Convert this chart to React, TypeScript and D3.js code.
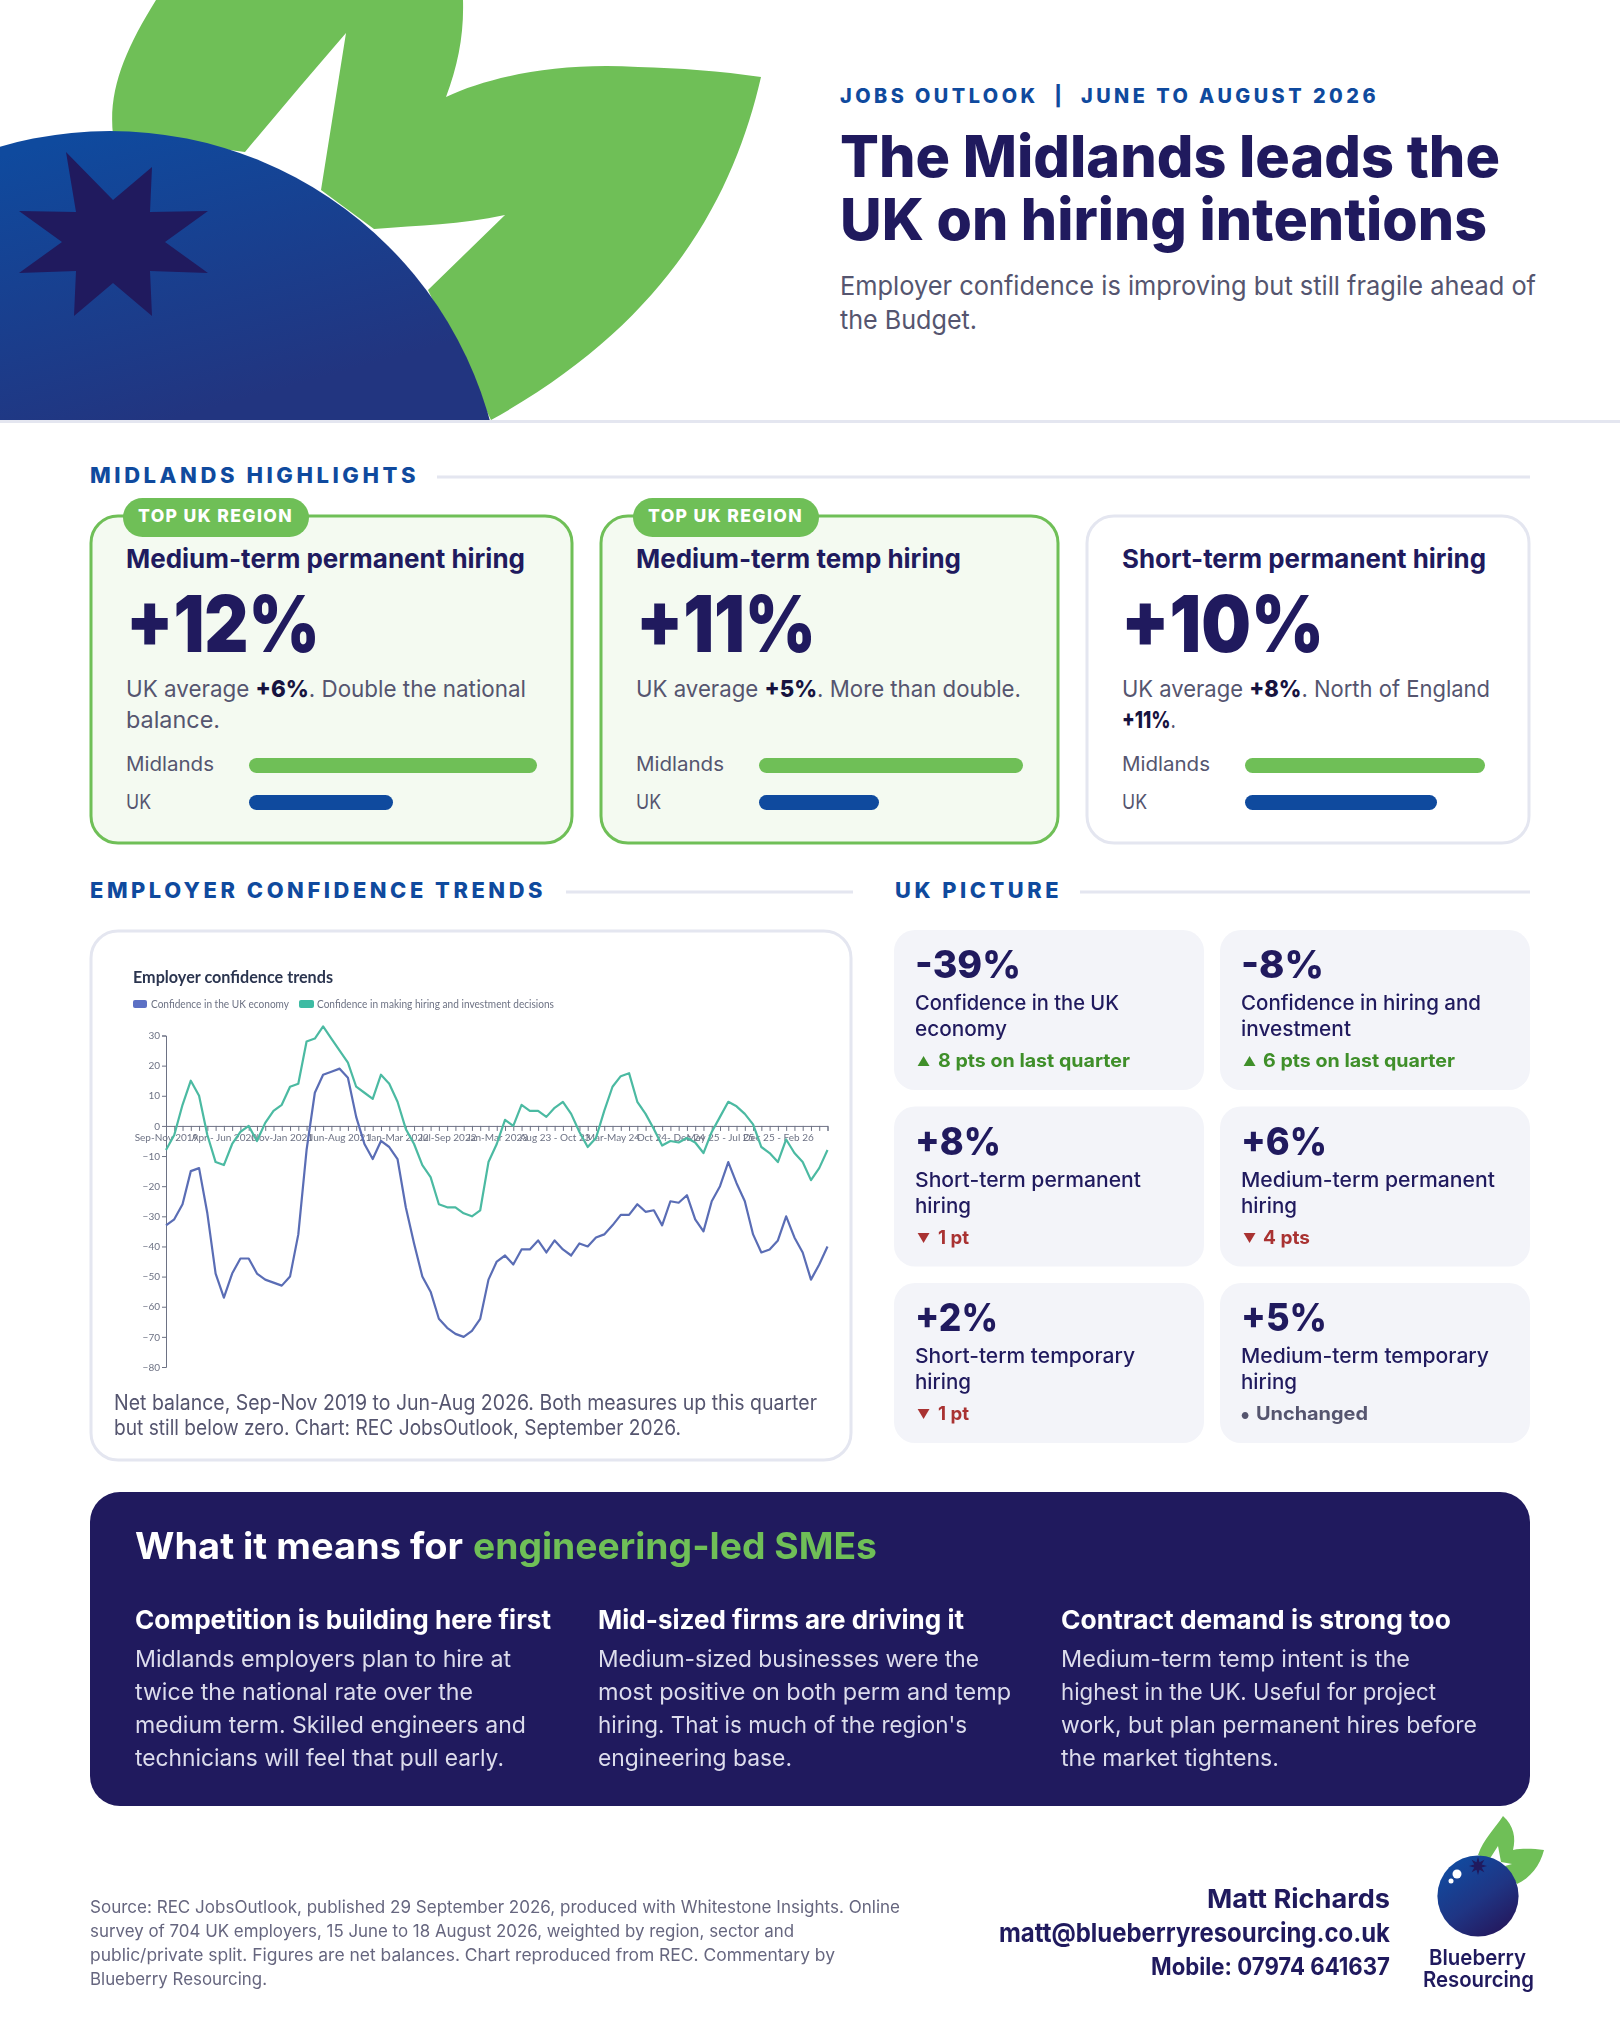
import * as d3 from "d3"
import { useEffect, useRef } from "react"

// chart series
const economy = [-33, -31, -26, -15, -14, -29, -49, -57, -49, -44, -44, -49, -51, -52, -53, -50, -36, -8, 11, 17, 18, 19, 16, 3, -6, -11, -5, -7, -11, -27, -39, -50, -55, -64, -67, -69, -70, -68, -64, -51, -45, -43, -46, -41, -41, -38, -42, -38, -41, -43, -39, -40, -37, -36, -33, -29.5, -29.5, -26, -28.5, -28, -33, -25, -25.5, -23, -31, -35, -25, -20, -12, -19, -25, -36, -42, -41, -38, -30, -37, -42, -51, -46, -40]
const hiring = [-8, -3, 7, 15, 10, -3, -12, -13, -6, -2, 0, -5, 1, 5, 7, 13, 14, 28, 29, 33, 29, 25, 21, 13, 11, 9, 17, 14, 8, -1, -6, -13, -17, -26, -27, -27, -29, -30, -28, -12, -6, 2, 0, 7, 5, 5, 3, 6, 8, 4, -2, -7, -4, 5, 13, 16.5, 17.5, 8, 4, -1, -6.5, -5, -5.5, -4, -5.5, -9, -2, 3, 8, 6.5, 4, 0.5, -7, -9, -12, -4.5, -9, -12, -18, -14, -8]
const xLabelIndex = [0, 7, 14, 21, 28, 34, 40, 47, 54, 61, 67, 74]
const xLabels = ["Sep-Nov 2019", "Apr - Jun 2020", "Nov-Jan 2021", "Jun-Aug 2021", "Jan-Mar 2022", "Jul-Sep 2022", "Jan-Mar 2023", "Aug 23 - Oct 23", "Mar-May 24", "Oct 24- Dec 24", "May 25 - Jul 25", "Dec 25 - Feb 26"]
const yTicks = [30, 20, 10, 0, -10, -20, -30, -40, -50, -60, -70, -80]

// highlight cards
const cardTitles = ["Medium-term permanent hiring", "Medium-term temp hiring", "Short-term permanent hiring"]
const midlandsValues = [12, 11, 10]
const ukValues = [6, 5, 8]
const cardNotes = [" Double the national", " More than double.", " North of England"]

// UK picture
const statValues = ["-39%", "-8%", "+8%", "+6%", "+2%", "+5%"]
const statLabels = [
  ["Confidence in the UK", "economy"],
  ["Confidence in hiring and", "investment"],
  ["Short-term permanent", "hiring"],
  ["Medium-term permanent", "hiring"],
  ["Short-term temporary", "hiring"],
  ["Medium-term temporary", "hiring"],
]
const statSymbols = ["▲", "▲", "▼", "▼", "▼", "●"]
const statDeltas = ["8 pts on last quarter", "6 pts on last quarter", "1 pt", "4 pts", "1 pt", "Unchanged"]

const meansHeads = ["Competition is building here first", "Mid-sized firms are driving it", "Contract demand is strong too"]
const meansBody = [
  ["Midlands employers plan to hire at", "twice the national rate over the", "medium term. Skilled engineers and", "technicians will feel that pull early."],
  ["Medium-sized businesses were the", "most positive on both perm and temp", "hiring. That is much of the region's", "engineering base."],
  ["Medium-term temp intent is the", "highest in the UK. Useful for project", "work, but plan permanent hires before", "the market tightens."],
]
const sourceLines = [
  "Source: REC JobsOutlook, published 29 September 2026, produced with Whitestone Insights. Online",
  "survey of 704 UK employers, 15 June to 18 August 2026, weighted by region, sector and",
  "public/private split. Figures are net balances. Chart reproduced from REC. Commentary by",
  "Blueberry Resourcing.",
]

// measured text widths, the substitute font is narrower than the original
const widths: Record<string, number> = {
  "JOBS OUTLOOK  |  JUNE TO AUGUST 2026": 539, "The Midlands leads the": 660, "UK on hiring intentions": 647,
  "Employer confidence is improving but still fragile ahead of": 696, "the Budget.": 137,
  "MIDLANDS HIGHLIGHTS": 329, "EMPLOYER CONFIDENCE TRENDS": 456, "UK PICTURE": 167, "TOP UK REGION": 155,
  "Medium-term permanent hiring": 399, "Medium-term temp hiring": 325, "Short-term permanent hiring": 364,
  "+12%": 194, "+11%": 180, "+10%": 203, "Midlands": 88, "UK": 25, "balance.": 94,
  "Net balance, Sep-Nov 2019 to Jun-Aug 2026. Both measures up this quarter": 703,
  "but still below zero. Chart: REC JobsOutlook, September 2026.": 567,
  "-39%": 106, "-8%": 83, "+8%": 86, "+6%": 86, "+2%": 83, "+5%": 86,
  "Confidence in the UK": 204, "economy": 92, "Confidence in hiring and": 240, "investment": 110,
  "Short-term permanent": 226, "hiring": 56, "Medium-term permanent": 254, "Short-term temporary": 220, "Medium-term temporary": 248,
  "8 pts on last quarter": 192, "6 pts on last quarter": 192, "1 pt": 31, "4 pts": 47, "Unchanged": 112,
  "What it means for": 328, "engineering-led SMEs": 404,
  "Competition is building here first": 416, "Mid-sized firms are driving it": 366, "Contract demand is strong too": 390,
  "Midlands employers plan to hire at": 376, "twice the national rate over the": 338, "medium term. Skilled engineers and": 391, "technicians will feel that pull early.": 369,
  "Medium-sized businesses were the": 381, "most positive on both perm and temp": 413, "hiring. That is much of the region's": 369, "engineering base.": 194,
  "Medium-term temp intent is the": 349, "highest in the UK. Useful for project": 375, "work, but plan permanent hires before": 416, "the market tightens.": 218,
  "Source: REC JobsOutlook, published 29 September 2026, produced with Whitestone Insights. Online": 810,
  "survey of 704 UK employers, 15 June to 18 August 2026, weighted by region, sector and": 704,
  "public/private split. Figures are net balances. Chart reproduced from REC. Commentary by": 745,
  "Blueberry Resourcing.": 177, "Matt Richards": 183, "matt@blueberryresourcing.co.uk": 391, "Mobile: 07974 641637": 239,
  "Blueberry": 97, "Resourcing": 111,
}
const cardBodyWidths = [400, 385, 368]

const NAVY = "#201a5e"
const BLUE = "#0f4a9e"
const GREEN = "#6fbf57"
const GREY = "#55556f"
const RULE = "#e4e6f0"
const FONT = "Inter, 'Noto Sans', sans-serif"

const T = ({ x, y, size, weight = 400, fill = NAVY, spacing, children }: any) => (
  <text
    x={x}
    y={y}
    fontSize={size}
    fontWeight={weight}
    fill={fill}
    letterSpacing={spacing}
    xmlSpace="preserve"
    textLength={widths[children]}
    lengthAdjust="spacingAndGlyphs"
  >
    {children}
  </text>
)

const Heading = ({ x, y, rule, x2, label }: any) => (
  <g>
    <T x={x} y={y} size={21} weight={800} fill={BLUE} spacing={3.4}>{label}</T>
    <line x1={rule} x2={x2} y1={y - 6} y2={y - 6} stroke={RULE} strokeWidth={3} />
  </g>
)

const cardBoxes = [
  { x: 91, w: 481, text: 126, bar: 249, big: 126, top: true },
  { x: 601, w: 457, text: 636, bar: 759, big: 636, top: true },
  { x: 1087, w: 442, text: 1122, bar: 1245, big: 1121, top: false },
]
const barScale = d3.scaleLinear().domain([0, 12]).range([0, 288])

const HighlightCard = ({ i }: { i: number }) => {
  const b = cardBoxes[i]
  return (
    <g>
      <rect x={b.x} y={516} width={b.w} height={327} rx={27} fill={b.top ? "#f4faf1" : "#fff"} stroke={b.top ? GREEN : RULE} strokeWidth={3} />
      {b.top && (
        <g>
          <rect x={b.x + 32} y={498} width={186} height={39} rx={19.5} fill={GREEN} />
          <T x={b.x + 47} y={522} size={18} weight={800} fill="#fff" spacing={1.4}>TOP UK REGION</T>
        </g>
      )}
      <T x={b.text} y={568} size={26} weight={700}>{cardTitles[i]}</T>
      <T x={b.big} y={652} size={78} weight={900}>{`+${midlandsValues[i]}%`}</T>
      <text x={b.text} y={697} fontSize={23.5} fill={GREY} xmlSpace="preserve" textLength={cardBodyWidths[i]} lengthAdjust="spacingAndGlyphs">
        UK average <tspan fontWeight={800} fill="#17133f">{`+${ukValues[i]}%`}</tspan>.{cardNotes[i]}
      </text>
      {i === 0 && <T x={b.text} y={728} size={23.5} fill={GREY}>balance.</T>}
      {i === 2 && <text x={b.text} y={728} fontSize={23.5} fontWeight={800} fill="#17133f" textLength={54} lengthAdjust="spacingAndGlyphs">+11%<tspan fontWeight={400} fill={GREY}>.</tspan></text>}
      <T x={b.text} y={771} size={20} fill={GREY}>Midlands</T>
      <T x={b.text} y={809} size={20} fill={GREY}>UK</T>
      <rect x={b.bar} y={758} width={barScale(midlandsValues[i])} height={15} rx={7.5} fill={GREEN} />
      <rect x={b.bar} y={795} width={barScale(ukValues[i])} height={15} rx={7.5} fill={BLUE} />
    </g>
  )
}

// the chart is a small raster in the original, so it gets a slight blur
const TrendChart = () => {
  const xRef = useRef<SVGGElement>(null)
  const yRef = useRef<SVGGElement>(null)
  const x = d3.scaleLinear().domain([0, economy.length - 1]).range([166, 827.5])
  const y = d3.scaleLinear().domain([-80, 30]).range([1367, 1035.5])
  const line = d3.line<number>().x((_, i) => x(i)).y((d) => y(d))

  useEffect(() => {
    const xAxis = d3.axisBottom(x)
      .tickValues(d3.range(economy.length))
      .tickSize(5)
      .tickPadding(3)
      .tickFormat((d) => {
        const at = xLabelIndex.indexOf(d as number)
        return at >= 0 ? xLabels[at] : ""
      })
    const yAxis = d3.axisLeft(y).tickValues(yTicks).tickSize(4).tickPadding(2)
    const xg = d3.select(xRef.current!).call(xAxis as any)
    const yg = d3.select(yRef.current!).call(yAxis as any)
    for (const g of [xg, yg]) {
      g.selectAll("text").attr("font-family", "Lato, sans-serif").attr("font-size", 10).attr("fill", "#6d7284")
      g.selectAll("line").attr("stroke", "#6d7284")
      g.selectAll("path").attr("stroke", "#6d7284")
    }
  }, [])

  return (
    <g filter="url(#soft)">
      <text x={133} y={983} fontFamily="Lato, sans-serif" fontWeight={700} fontSize={17} fill="#2c3550" textLength={200} lengthAdjust="spacingAndGlyphs">Employer confidence trends</text>
      <rect x={133} y={1000} width={14} height={8} rx={2} fill="#5b6fc4" />
      <text x={151} y={1008} fontFamily="Lato, sans-serif" fontSize={11} fill="#6d7284" textLength={138} lengthAdjust="spacingAndGlyphs">Confidence in the UK economy</text>
      <rect x={299} y={1000} width={15} height={8} rx={2} fill="#3dbba3" />
      <text x={317} y={1008} fontFamily="Lato, sans-serif" fontSize={11} fill="#6d7284" textLength={237} lengthAdjust="spacingAndGlyphs">Confidence in making hiring and investment decisions</text>
      <g ref={yRef} transform="translate(166,0)" />
      <g ref={xRef} transform={`translate(0,${y(0)})`} />
      <path d={line(hiring)!} fill="none" stroke="#4cbaa2" strokeWidth={2.2} strokeLinejoin="round" />
      <path d={line(economy)!} fill="none" stroke="#5a6db5" strokeWidth={2.2} strokeLinejoin="round" />
    </g>
  )
}

const StatCard = ({ i }: { i: number }) => {
  const cx = i % 2 === 0 ? 894 : 1220
  const top = 930 + Math.floor(i / 2) * 176.5
  const sym = statSymbols[i]
  const colour = sym === "▲" ? "#3f8f2a" : sym === "▼" ? "#a93232" : GREY
  const textX = sym === "●" ? cx + 36 : cx + 44 - (i % 2)
  return (
    <g>
      <rect x={cx} y={top} width={310} height={160} rx={21} fill="#f3f4f9" />
      <T x={cx + 21} y={top + 48} size={38} weight={800}>{statValues[i]}</T>
      <T x={cx + 21} y={top + 80} size={20.5} weight={500}>{statLabels[i][0]}</T>
      <T x={cx + 21} y={top + 106} size={20.5} weight={500}>{statLabels[i][1]}</T>
      <text x={sym === "●" ? cx + 21 : cx + 23} y={top + 136} fontSize={sym === "●" ? 9 : 13} fill={colour}>{sym}</text>
      <T x={textX} y={top + 137} size={18.5} weight={700} fill={colour}>{statDeltas[i]}</T>
    </g>
  )
}

const starPoints = (cx: number, cy: number, outer: number, inner: number, n: number) =>
  d3.range(n * 2).map((k) => {
    const r = k % 2 === 0 ? outer : inner
    const a = (k * Math.PI) / n - Math.PI / 2
    return `${cx + r * Math.cos(a)},${cy + r * Math.sin(a)}`
  }).join(" ")

export default function App() {
  return (
    <svg width={1620} height={2025} viewBox="0 0 1620 2025" fontFamily={FONT} style={{ position: "absolute", left: 0, top: 0, background: "#fff" }}>
      <defs>
        <linearGradient id="berry" gradientUnits="userSpaceOnUse" x1={90} y1={131} x2={170} y2={420}>
          <stop offset="0" stopColor="#0f4a9e" />
          <stop offset="1" stopColor="#223580" />
        </linearGradient>
        <linearGradient id="logoBerry" x1="0.15" y1="0.1" x2="0.75" y2="0.95">
          <stop offset="0" stopColor="#114a9f" />
          <stop offset="0.55" stopColor="#1f3584" />
          <stop offset="1" stopColor="#241a60" />
        </linearGradient>
        <clipPath id="header"><rect x={0} y={0} width={1620} height={420} /></clipPath>
        <filter id="soft" x="-5%" y="-5%" width="110%" height="110%"><feGaussianBlur stdDeviation={0.5} /></filter>
      </defs>

      {/* header art */}
      <g clipPath="url(#header)">
        <path
          fill={GREEN}
          d="M113,135 C108,90 125,50 156,0 L463,0 C464,35 458,65 446,97 C490,76 560,62 638,67 C680,68 720,71 761,77 C735,190 672,320 491,420 L428,290 L505,215 C460,225 420,225 374,229 L321,190 L346,33 Q295,92 245,152 Z"
        />
        <circle cx={110} cy={525} r={394} fill="url(#berry)" />
        <polygon fill={NAVY} points="66,152 113,200 152,167 150,212 208,211 165,242 208,273 150,271 152,316 113,283 74,316 76,271 19,273 62,242 19,211 76,212" />
      </g>
      <rect x={0} y={420} width={1620} height={3} fill={RULE} />

      <T x={840} y={103} size={19.5} weight={800} fill={BLUE} spacing={3.4}>JOBS OUTLOOK  |  JUNE TO AUGUST 2026</T>
      <T x={840} y={177} size={58} weight={800}>The Midlands leads the</T>
      <T x={840} y={240} size={58} weight={800}>UK on hiring intentions</T>
      <T x={840} y={295} size={26} fill={GREY}>Employer confidence is improving but still fragile ahead of</T>
      <T x={840} y={329} size={26} fill={GREY}>the Budget.</T>

      <Heading x={90} y={483} rule={437} x2={1530} label="MIDLANDS HIGHLIGHTS" />
      {cardTitles.map((_, i) => <HighlightCard key={i} i={i} />)}

      <Heading x={90} y={898} rule={566} x2={853} label="EMPLOYER CONFIDENCE TRENDS" />
      <Heading x={895} y={898} rule={1080} x2={1530} label="UK PICTURE" />

      <rect x={91} y={931} width={760} height={529} rx={27} fill="#fff" stroke={RULE} strokeWidth={3} />
      <TrendChart />
      <T x={114} y={1410} size={21} fill={GREY}>Net balance, Sep-Nov 2019 to Jun-Aug 2026. Both measures up this quarter</T>
      <T x={114} y={1435} size={21} fill={GREY}>but still below zero. Chart: REC JobsOutlook, September 2026.</T>

      {statValues.map((_, i) => <StatCard key={i} i={i} />)}

      {/* what it means */}
      <rect x={90} y={1492} width={1440} height={314} rx={30} fill={NAVY} />
      <T x={135} y={1559} size={37} weight={700} fill="#fff">What it means for</T>
      <T x={473} y={1559} size={37} weight={700} fill={GREEN}>engineering-led SMEs</T>
      {meansHeads.map((head, i) => {
        const cx = [135, 598, 1061][i]
        return (
          <g key={head}>
            <T x={cx} y={1629} size={26} weight={700} fill="#fff">{head}</T>
            {meansBody[i].map((l, j) => (
              <T key={l} x={cx} y={1667 + j * 33} size={23.5} fill="#dcdcec">{l}</T>
            ))}
          </g>
        )
      })}

      {/* footer */}
      {sourceLines.map((l, i) => (
        <T key={l} x={90} y={[1913, 1937, 1961, 1985][i]} size={17} fill="#66667f">{l}</T>
      ))}
      <T x={1207} y={1908} size={26} weight={700}>Matt Richards</T>
      <T x={999} y={1942} size={26} weight={700}>matt@blueberryresourcing.co.uk</T>
      <T x={1151} y={1975} size={24} weight={700}>Mobile: 07974 641637</T>

      {/* logo */}
      <path
        fill={GREEN}
        d="M1478,1855 C1484,1838 1494,1830 1503,1816 C1514,1826 1516,1838 1513,1850 C1524,1848 1534,1849 1544,1850 C1540,1866 1530,1878 1517,1884 L1505,1866 L1512,1864 L1501,1862 L1498,1846 L1489,1860 Z"
      />
      <circle cx={1478} cy={1896} r={40.6} fill="url(#logoBerry)" />
      <polygon fill={NAVY} points={starPoints(1478, 1866, 9, 4, 8)} />
      <circle cx={1457} cy={1874} r={4.5} fill="#fff" />
      <circle cx={1451} cy={1881} r={2.5} fill="#fff" />
      <T x={1429} y={1965} size={22} weight={600}>Blueberry</T>
      <T x={1423} y={1987} size={22} weight={600}>Resourcing</T>
    </svg>
  )
}
